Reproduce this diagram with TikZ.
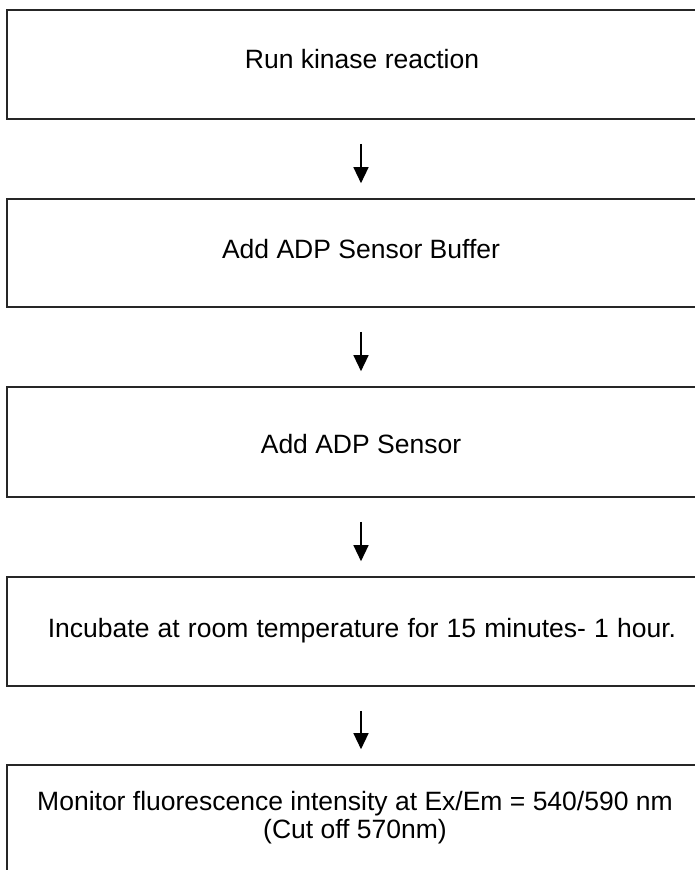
\documentclass[tikz,border=0pt]{standalone}
\usepackage{fontspec}
\setmainfont{Liberation Sans}
\usetikzlibrary{arrows.meta}
\begin{document}
\begin{tikzpicture}[x=1pt,y=-1pt,
  stepbox/.style={draw=black!85,line width=1.6pt,rectangle,minimum width=708pt,inner sep=0pt},
  lbl/.style={anchor=base,inner sep=0pt,align=center,font=\fontsize{26.5}{30}\selectfont},
  arr/.style={line width=1.3pt,-{Triangle[length=16pt,width=15pt]},shorten <=24pt,shorten >=15pt}]
\useasboundingbox (0,0) rectangle (695,870);
\clip (0,0) rectangle (695,870);
\node[stepbox,minimum height=109pt] (b1) at (361,64.5) {};
\node[stepbox,minimum height=108pt] (b2) at (361,253) {};
\node[stepbox,minimum height=110pt] (b3) at (361,442) {};
\node[stepbox,minimum height=109pt] (b4) at (361,631.5) {};
\node[stepbox,minimum height=120pt] (b5) at (361,825) {};
\node[lbl] (t1) at (362,68) {Run kinase reaction};
\node[lbl] (t2) at (361,258) {Add ADP Sensor Buffer};
\node[lbl] (t3) at (361,453) {Add ADP Sensor};
\node[lbl] (t4) at (362,637) {\spaceskip=8.2pt plus 1pt Incubate at room temperature for 15 minutes- 1 hour.};
\node[lbl] (t5) at (355,810) {Monitor fluorescence intensity at Ex/Em = 540/590 nm};
\node[lbl] (t6) at (355,838) {(Cut off 570nm)};
\draw[arr] (b1.south) -- (b2.north);
\draw[arr] (b2.south) -- (b3.north);
\draw[arr] (b3.south) -- (b4.north);
\draw[arr] (b4.south) -- (b5.north);
\end{tikzpicture}
\end{document}
